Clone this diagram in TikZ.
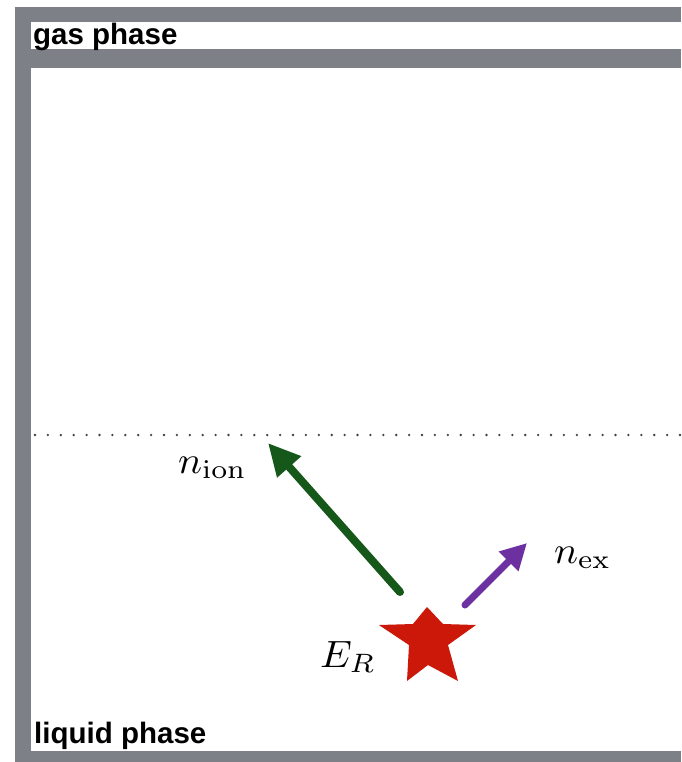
\documentclass[tikz,border=0pt]{standalone}
\usepackage[no-math]{fontspec}
\usepackage{graphicx}
\setsansfont{Liberation Sans}
\usetikzlibrary{arrows.meta,positioning}

\definecolor{framegray}{RGB}{125,128,134}
\definecolor{iongreen}{RGB}{22,88,26}
\definecolor{expurple}{RGB}{108,48,160}
\definecolor{starred}{RGB}{204,24,8}

\newcommand{\bigmath}[1]{\scalebox{4.0}[3.8]{$#1$}}

\begin{document}
\begin{tikzpicture}[
    x=1pt, y=-1pt,
    phase/.style={anchor=base west, inner sep=0pt,
                  font=\sffamily\bfseries\fontsize{29.5}{30}\selectfont},
    lbl/.style={anchor=base west, inner sep=0pt},
    ray/.style={line width=#1, line cap=round},
    ray/.default=8pt
]
    \useasboundingbox (0,0) rectangle (681,762);
    \fill[white] (0,0) rectangle (681,762);

    % frame and label strip
    \fill[framegray] (15,7) rectangle (681,762);
    \fill[white] (31,22) rectangle (681,49);
    \fill[white] (31,68) rectangle (681,751);

    \node[phase] (gas) at (33,45) {gas phase};
    \node[phase] (liq) at (34,743) {liquid phase};

    % liquid surface
    \coordinate (sl) at (35,435);
    \coordinate (sr) at (681,435);
    \draw[darkgray, line width=2.6pt, line cap=round,
          dash pattern=on 0pt off 12.9pt] (sl) -- (sr);

    % recoil
    \coordinate (star) at (428,648);
    \fill[starred] (427,607) -- (413,624) -- (379,625) -- (409,645)
        -- (407,681) -- (428,665) -- (458,681) -- (448,645)
        -- (476,625) -- (443,624) -- cycle;
    \node[lbl] (er) at (320,667) {\bigmath{E_R}};

    % ionisation and excitation
    \coordinate (ion0) at (400,592);
    \coordinate (ion1) at (268,443);
    \draw[ray, iongreen, -{Triangle[length=32pt, width=30pt]}] (ion0) -- (ion1);
    \node[lbl] (nion) at (178,473) {\bigmath{n_{\mathrm{ion}}}};

    \coordinate (ex0) at (465,605);
    \coordinate (ex1) at (527,543);
    \draw[ray=7pt, expurple, -{Triangle[length=26pt, width=26pt]}] (ex0) -- (ex1);
    \node[lbl] (nex) at (554,563) {\bigmath{n_{\mathrm{ex}}}};
\end{tikzpicture}
\end{document}
